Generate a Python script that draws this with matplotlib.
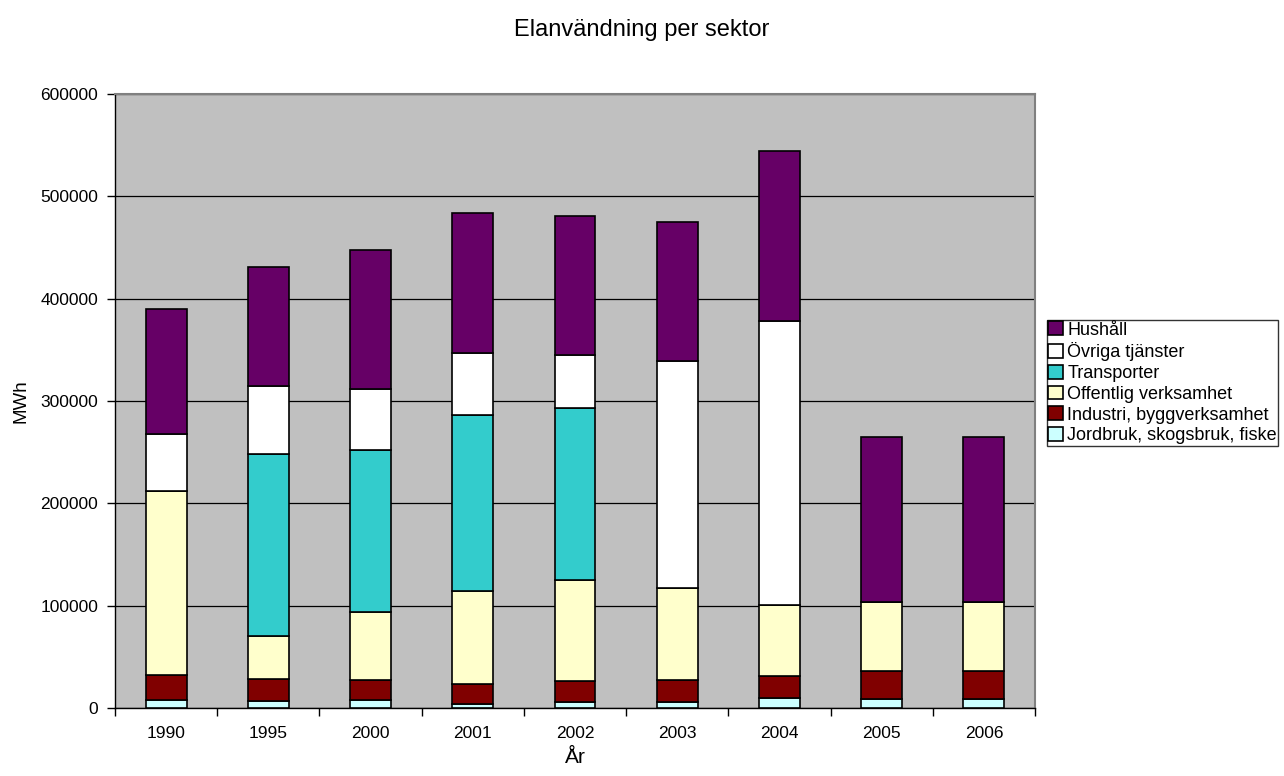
import numpy as np
import matplotlib
matplotlib.use("Agg")
from matplotlib import pyplot as plt

plt.rcParams["font.family"] = ["Liberation Sans", "DejaVu Sans"]

years = ["1990", "1995", "2000", "2001", "2002", "2003", "2004", "2005", "2006"]

jordbruk = [7400, 6500, 7800, 3900, 6200, 6200, 10100, 9100, 9100]
industri = [25100, 21500, 19200, 19600, 20200, 20800, 20800, 26700, 26700]
offentlig = [179600, 42000, 66800, 91200, 98700, 90300, 69400, 67800, 67800]
transporter = [0, 178600, 158700, 171700, 168200, 0, 0, 0, 0]
ovriga = [56000, 65800, 59600, 60200, 52100, 221900, 277600, 0, 0]
hushall = [121900, 116600, 135800, 136800, 135400, 135400, 166500, 161300, 161300]

series = [
    ("Jordbruk, skogsbruk, fiske", jordbruk, "#CCFFFF"),
    ("Industri, byggverksamhet", industri, "#800000"),
    ("Offentlig verksamhet", offentlig, "#FFFFCC"),
    ("Transporter", transporter, "#33CCCC"),
    ("Övriga tjänster", ovriga, "#FFFFFF"),
    ("Hushåll", hushall, "#660066"),
]

fig = plt.figure(figsize=(12.84, 7.76), dpi=100)
ax = fig.add_axes([115 / 1284, 1 - 708 / 776, 920 / 1284, 614 / 776])
ax.set_facecolor("#C0C0C0")

x = np.arange(len(years))
bottom = np.zeros(len(years))
handles = []
for name, vals, color in series:
    vals = np.array(vals, dtype=float)
    bars = ax.bar(x, vals, width=0.4, bottom=bottom, color=color,
                  edgecolor="black", linewidth=1.2, label=name, zorder=3)
    handles.append(bars)
    bottom += vals

ax.set_xlim(-0.5, len(years) - 0.5)
ax.set_ylim(0, 600000)
ax.set_yticks(np.arange(0, 600001, 100000))
ax.yaxis.grid(True, color="black", linewidth=0.9, zorder=0)
ax.set_axisbelow(True)

# category labels in the middle, tick marks on the boundaries
ax.set_xticks(x)
ax.set_xticklabels(years)
ax.set_xticks(np.arange(-0.5, len(years), 1), minor=True)
ax.tick_params(axis="x", which="major", length=0, pad=13, labelsize=12.5)
ax.tick_params(axis="x", which="minor", length=6, direction="out", width=1)
ax.tick_params(axis="y", length=6, direction="out", labelsize=12.5,
               width=1, pad=6)

for side in ["left", "bottom"]:
    ax.spines[side].set_color("black")
    ax.spines[side].set_linewidth(1)
for side in ["top", "right"]:
    ax.spines[side].set_color("#808080")
    ax.spines[side].set_linewidth(1.5)

ax.set_xlabel("År", fontsize=15, labelpad=5)
ax.set_ylabel("MWh", fontsize=13.5, labelpad=8)
fig.text(0.5, 1 - 30 / 776, "Elanvändning per sektor", ha="center",
         va="center", fontsize=17)

leg = fig.legend(handles[::-1], [s[0] for s in series][::-1],
                 loc="upper left", bbox_to_anchor=(1047 / 1284, 1 - 320 / 776),
                 fontsize=13, frameon=True, fancybox=False,
                 handlelength=0.8, handleheight=0.8, handletextpad=0.25,
                 labelspacing=0.2, borderpad=0.08, borderaxespad=0)
leg.get_frame().set_edgecolor("black")
leg.get_frame().set_linewidth(1)

fig.savefig("out.png", dpi=100)
